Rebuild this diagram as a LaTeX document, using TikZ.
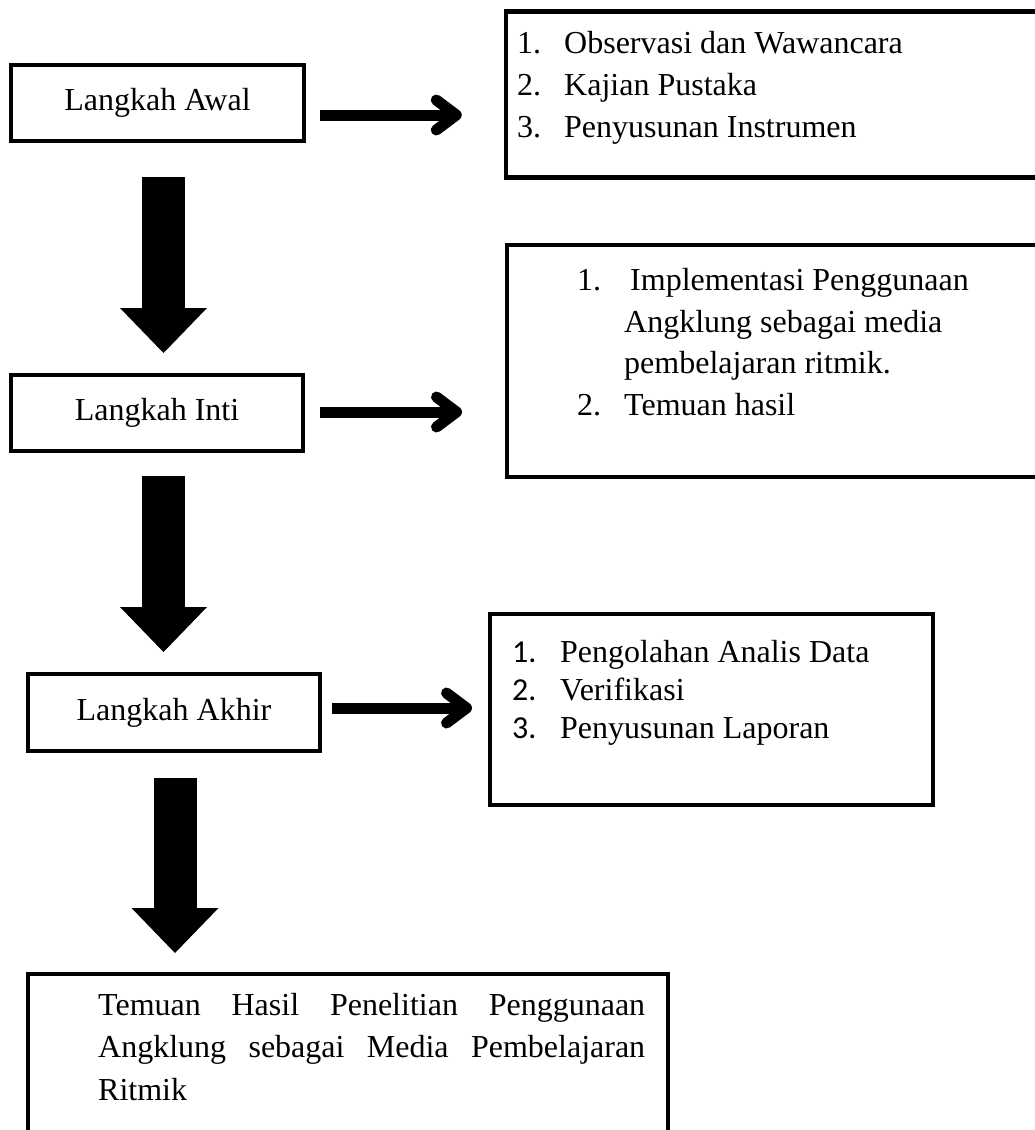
\documentclass[tikz,border=0pt]{standalone}
\usepackage{fontspec}
\setmainfont{Liberation Serif}
\newfontfamily\calib{Carlito}
\usetikzlibrary{arrows.meta}
\begin{document}
\begin{tikzpicture}[x=1pt,y=-1pt,
  box/.style={draw, line width=4pt, rectangle, inner sep=0pt, font=\fontsize{32}{42}\selectfont},
  txt/.style={anchor=base west, inner sep=0pt, font=\fontsize{32}{42}\selectfont},
  harrow/.style={line width=11pt, -{Straight Barb[length=20pt,width=30pt,round]}},
  varrow/.style={line width=43pt, -{Triangle[length=45pt,width=87pt,line width=0pt]}}]
\useasboundingbox (0,0) rectangle (1035,1130);

% left step boxes
\node[box, minimum width=293pt, minimum height=76pt] (awal) at (157.5,103) {Langkah Awal};
\node[box, minimum width=292pt, minimum height=76pt] (inti) at (157,413) {Langkah Inti};
\node[box, minimum width=292pt, minimum height=77pt] (akhir) at (174,712.5) {Langkah Akhir};

% right boxes
\node[box, line width=4.5pt, minimum width=532pt, minimum height=166pt] (boxA) at (772,94.5) {};
\node[box, minimum width=531pt, minimum height=232pt] (boxB) at (772.5,361) {};
\node[box, minimum width=443pt, minimum height=191pt] (boxC) at (711.5,709.5) {};
\node[box, minimum width=640pt, minimum height=174pt] (final) at (348,1061) {};

% box A text
\node[txt] (a1n) at (517,53) {1.};
\node[txt] (a1t) at (564,53) {Observasi dan Wawancara};
\node[txt] (a2n) at (517,95) {2.};
\node[txt] (a2t) at (564,95) {Kajian Pustaka};
\node[txt] (a3n) at (517,137) {3.};
\node[txt] (a3t) at (564,137) {Penyusunan Instrumen};

% box B text
\node[txt] (b1n) at (577,290) {1.};
\node[txt] (b1t) at (630,290) {Implementasi Penggunaan};
\node[txt] (b1u) at (624,332) {Angklung sebagai media};
\node[txt] (b1v) at (624,373) {pembelajaran ritmik.};
\node[txt] (b2n) at (577,415) {2.};
\node[txt] (b2t) at (624,415) {Temuan hasil};

% box C text
\node[txt, font=\fontsize{32}{42}\calib] (c1n) at (512,662) {1.};
\node[txt] (c1t) at (560,662) {Pengolahan Analis Data};
\node[txt, font=\fontsize{32}{42}\calib] (c2n) at (512,700) {2.};
\node[txt] (c2t) at (560,700) {Verifikasi};
\node[txt, font=\fontsize{32}{42}\calib] (c3n) at (512,738) {3.};
\node[txt] (c3t) at (560,738) {Penyusunan Laporan};

% final box text
\node[txt] (f1) at (98,1015) {\hbox to 547pt{Temuan\hfill Hasil\hfill Penelitian\hfill Penggunaan}};
\node[txt] (f2) at (98,1057) {\hbox to 547pt{Angklung\hfill sebagai\hfill Media\hfill Pembelajaran}};
\node[txt] (f3) at (98,1100) {Ritmik};

% horizontal arrows
\draw[harrow] ([xshift=14pt,yshift=-12pt]awal.east) -- ([xshift=-42pt,yshift=-20.5pt]boxA.west);
\draw[harrow] ([xshift=15pt,yshift=1pt]inti.east) -- ([xshift=-43pt,yshift=-51pt]boxB.west);
\draw[harrow] ([xshift=10pt,yshift=4.5pt]akhir.east) -- ([xshift=-16pt,yshift=1.5pt]boxC.west);

% big down arrows
\draw[varrow] ([xshift=6pt,yshift=-34pt]awal.south) -- ([xshift=6.5pt,yshift=20pt]inti.north);
\draw[varrow] ([xshift=6.5pt,yshift=-23pt]inti.south) -- ([xshift=-10.5pt,yshift=20pt]akhir.north);
\draw[varrow] ([xshift=1pt,yshift=-25pt]akhir.south) -- ([xshift=149pt,yshift=19pt]final.north west);
\end{tikzpicture}
\end{document}
